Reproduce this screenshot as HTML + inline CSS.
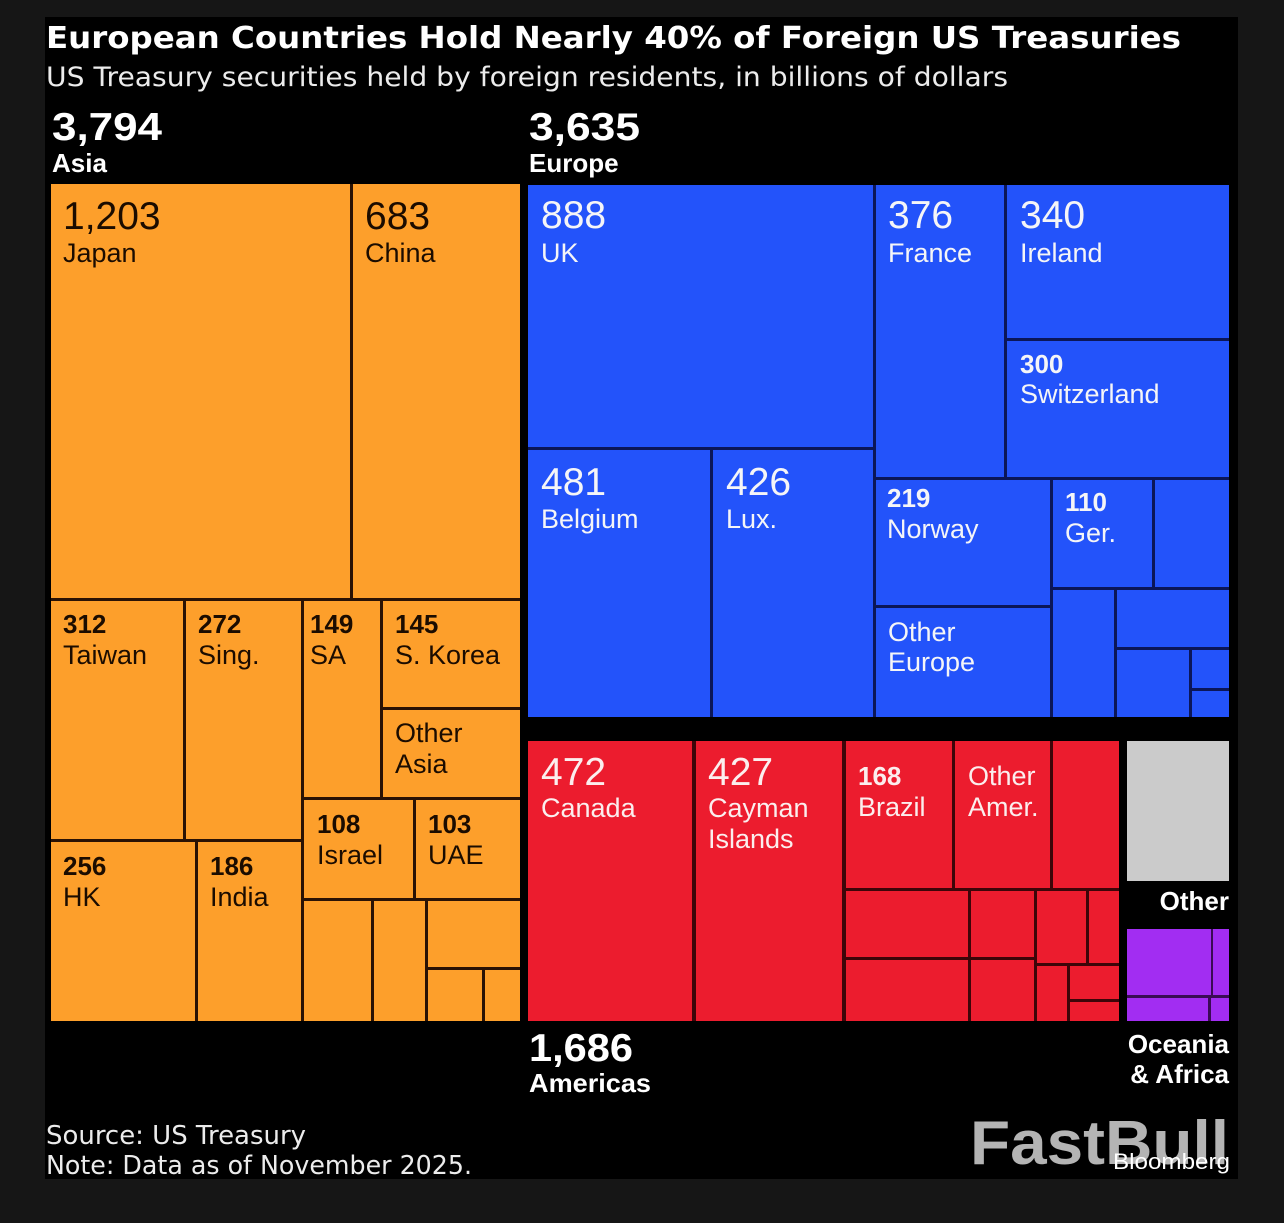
<!DOCTYPE html>
<html>
<head>
<meta charset="utf-8">
<style>
html,body{margin:0;padding:0;background:#161616;}
svg{display:block;}
.t{font-family:"Liberation Sans",Arial,sans-serif;}
.dv{font-family:"DejaVu Sans","Liberation Sans",sans-serif;}
.big{font-size:39px;font-weight:400;}
.sm{font-size:26px;font-weight:700;}
.lb{font-size:27px;font-weight:400;}
.dk{fill:#1b0c00;}
.wt{fill:#f5f5f7;}
.hd{fill:#ffffff;font-weight:700;}
</style>
</head>
<body>
<svg width="1284" height="1223" viewBox="0 0 1284 1223" xmlns="http://www.w3.org/2000/svg">
  <rect x="0" y="0" width="1284" height="1223" fill="#161616"/>
  <rect x="45" y="17" width="1193" height="1162" fill="#000000"/>

  <!-- Title -->
  <text class="dv" x="46" y="48" font-size="30" font-weight="700" fill="#ffffff" textLength="1135" lengthAdjust="spacingAndGlyphs">European Countries Hold Nearly 40% of Foreign US Treasuries</text>
  <text class="dv" x="46" y="86" font-size="27" fill="#ececec" textLength="962" lengthAdjust="spacingAndGlyphs">US Treasury securities held by foreign residents, in billions of dollars</text>

  <!-- Region headers -->
  <text class="t hd" x="52" y="140" font-size="39" textLength="110" lengthAdjust="spacingAndGlyphs">3,794</text>
  <text class="t hd" x="52" y="172" font-size="26">Asia</text>
  <text class="t hd" x="529" y="140" font-size="39" textLength="111" lengthAdjust="spacingAndGlyphs">3,635</text>
  <text class="t hd" x="529" y="172" font-size="26">Europe</text>

  <!-- ORANGE: Asia -->
  <rect x="51" y="184" width="469" height="837" fill="#2a1204"/>
  <g fill="#fd9f2b">
    <rect x="51" y="184" width="299" height="414"/>
    <rect x="353" y="184" width="167" height="414"/>
    <rect x="51" y="601" width="132" height="238"/>
    <rect x="186" y="601" width="115" height="238"/>
    <rect x="51" y="842" width="144" height="179"/>
    <rect x="198" y="842" width="103" height="179"/>
    <rect x="304" y="601" width="76" height="196"/>
    <rect x="383" y="601" width="137" height="106"/>
    <rect x="383" y="710" width="137" height="87"/>
    <rect x="304" y="800" width="109" height="98"/>
    <rect x="416" y="800" width="104" height="98"/>
    <rect x="304" y="901" width="67" height="120"/>
    <rect x="374" y="901" width="51" height="120"/>
    <rect x="428" y="901" width="92" height="66"/>
    <rect x="428" y="970" width="54" height="51"/>
    <rect x="485" y="970" width="35" height="51"/>
  </g>
  <g class="t dk">
    <text class="big" x="63" y="229">1,203</text>
    <text class="lb" x="63" y="262">Japan</text>
    <text class="big" x="365" y="229">683</text>
    <text class="lb" x="365" y="262">China</text>
    <text class="sm" x="63" y="633">312</text>
    <text class="lb" x="63" y="664">Taiwan</text>
    <text class="sm" x="198" y="633">272</text>
    <text class="lb" x="198" y="664">Sing.</text>
    <text class="sm" x="310" y="633">149</text>
    <text class="lb" x="310" y="664">SA</text>
    <text class="sm" x="395" y="633">145</text>
    <text class="lb" x="395" y="664">S. Korea</text>
    <text class="lb" x="395" y="742">Other</text>
    <text class="lb" x="395" y="773">Asia</text>
    <text class="sm" x="317" y="833">108</text>
    <text class="lb" x="317" y="864">Israel</text>
    <text class="sm" x="428" y="833">103</text>
    <text class="lb" x="428" y="864">UAE</text>
    <text class="sm" x="63" y="875">256</text>
    <text class="lb" x="63" y="906">HK</text>
    <text class="sm" x="210" y="875">186</text>
    <text class="lb" x="210" y="906">India</text>
  </g>

  <!-- BLUE: Europe -->
  <rect x="528" y="185" width="701" height="532" fill="#0b1658"/>
  <g fill="#2353fa">
    <rect x="528" y="185" width="345" height="262"/>
    <rect x="528" y="450" width="182" height="267"/>
    <rect x="713" y="450" width="160" height="267"/>
    <rect x="876" y="185" width="128" height="292"/>
    <rect x="1007" y="185" width="222" height="153"/>
    <rect x="1007" y="341" width="222" height="136"/>
    <rect x="876" y="480" width="174" height="125"/>
    <rect x="876" y="608" width="174" height="109"/>
    <rect x="1053" y="480" width="99" height="107"/>
    <rect x="1155" y="480" width="74" height="107"/>
    <rect x="1053" y="590" width="61" height="127"/>
    <rect x="1117" y="590" width="112" height="57"/>
    <rect x="1117" y="650" width="72" height="67"/>
    <rect x="1192" y="650" width="37" height="38"/>
    <rect x="1192" y="691" width="37" height="26"/>
  </g>
  <g class="t wt">
    <text class="big" x="541" y="228">888</text>
    <text class="lb" x="541" y="262">UK</text>
    <text class="big" x="888" y="228">376</text>
    <text class="lb" x="888" y="262">France</text>
    <text class="big" x="1020" y="228">340</text>
    <text class="lb" x="1020" y="262">Ireland</text>
    <text class="big" x="541" y="495">481</text>
    <text class="lb" x="541" y="528">Belgium</text>
    <text class="big" x="726" y="495">426</text>
    <text class="lb" x="726" y="528">Lux.</text>
    <text class="sm" x="1020" y="373">300</text>
    <text class="lb" x="1020" y="403">Switzerland</text>
    <text class="sm" x="887" y="507">219</text>
    <text class="lb" x="887" y="538">Norway</text>
    <text class="sm" x="1065" y="511">110</text>
    <text class="lb" x="1065" y="542">Ger.</text>
    <text class="lb" x="888" y="641">Other</text>
    <text class="lb" x="888" y="671">Europe</text>
  </g>

  <!-- RED: Americas -->
  <rect x="528" y="741" width="591" height="280" fill="#3d0509"/>
  <g fill="#ec1c2e">
    <rect x="528" y="741" width="164" height="280"/>
    <rect x="696" y="741" width="146" height="280"/>
    <rect x="846" y="741" width="106" height="147"/>
    <rect x="955" y="741" width="95" height="147"/>
    <rect x="1053" y="741" width="66" height="147"/>
    <rect x="846" y="891" width="122" height="66"/>
    <rect x="971" y="891" width="63" height="66"/>
    <rect x="1037" y="891" width="49" height="72"/>
    <rect x="1089" y="891" width="30" height="72"/>
    <rect x="846" y="960" width="122" height="61"/>
    <rect x="971" y="960" width="63" height="61"/>
    <rect x="1037" y="966" width="30" height="55"/>
    <rect x="1070" y="966" width="49" height="33"/>
    <rect x="1070" y="1002" width="49" height="19"/>
  </g>
  <g class="t" fill="#fbeeee">
    <text class="big" x="541" y="785">472</text>
    <text class="lb" x="541" y="817">Canada</text>
    <text class="big" x="708" y="785">427</text>
    <text class="lb" x="708" y="817">Cayman</text>
    <text class="lb" x="708" y="848">Islands</text>
    <text class="sm" x="858" y="785">168</text>
    <text class="lb" x="858" y="816">Brazil</text>
    <text class="lb" x="968" y="785">Other</text>
    <text class="lb" x="968" y="816">Amer.</text>
  </g>
  <text class="t hd" x="529" y="1061" font-size="39" textLength="104" lengthAdjust="spacingAndGlyphs">1,686</text>
  <text class="t hd" x="529" y="1092" font-size="26" textLength="122" lengthAdjust="spacingAndGlyphs">Americas</text>

  <!-- Other (gray) -->
  <rect x="1127" y="741" width="102" height="140" fill="#cbcbcb"/>
  <text class="t hd" x="1229" y="910" font-size="26" text-anchor="end">Other</text>

  <!-- Oceania & Africa (purple) -->
  <rect x="1127" y="929" width="102" height="92" fill="#3a0b55"/>
  <g fill="#a22df2">
    <rect x="1127" y="929" width="84" height="66"/>
    <rect x="1213" y="929" width="16" height="66"/>
    <rect x="1127" y="998" width="81" height="23"/>
    <rect x="1211" y="998" width="18" height="23"/>
  </g>
  <text class="t hd" x="1229" y="1053" font-size="26" text-anchor="end">Oceania</text>
  <text class="t hd" x="1229" y="1083" font-size="26" text-anchor="end">&amp; Africa</text>

  <!-- Footer -->
  <text class="dv" x="46" y="1144" font-size="26" fill="#ececec" textLength="260" lengthAdjust="spacingAndGlyphs">Source: US Treasury</text>
  <text class="dv" x="46" y="1174" font-size="26" fill="#ececec" textLength="426" lengthAdjust="spacingAndGlyphs">Note: Data as of November 2025.</text>

  <!-- Watermark -->
  <text class="t" x="970" y="1164" font-size="62" font-weight="700" fill="#b4b4b4" textLength="259" lengthAdjust="spacingAndGlyphs">FastBull</text>
  <text class="t" x="1113" y="1169" font-size="22" fill="#ffffff" textLength="117" lengthAdjust="spacingAndGlyphs">Bloomberg</text>
</svg>
</body>
</html>
